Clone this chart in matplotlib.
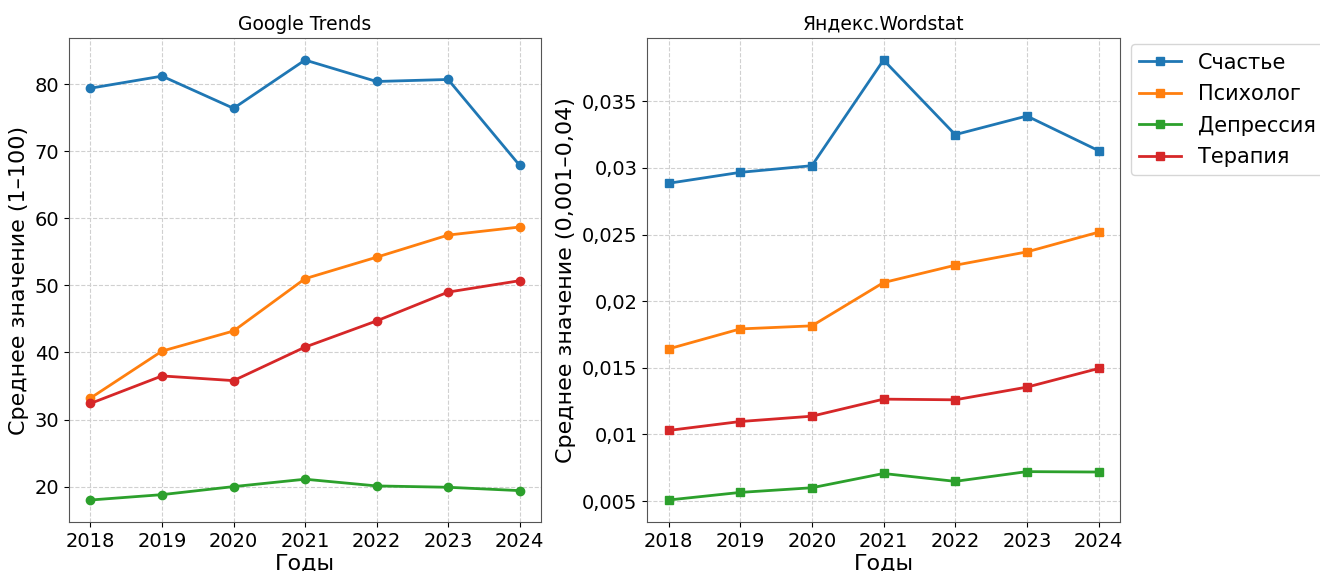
import numpy as np
import matplotlib
matplotlib.use('Agg')
import matplotlib.pyplot as plt
from matplotlib.ticker import FuncFormatter

years = [2018, 2019, 2020, 2021, 2022, 2023, 2024]
terms = ['Счастье', 'Психолог', 'Депрессия', 'Терапия']
colors = ['#1f77b4', '#ff7f0e', '#2ca02c', '#d62728']

# Google Trends, average value 1-100
google_happiness = [79.4, 81.2, 76.4, 83.6, 80.4, 80.7, 67.9]
google_psychologist = [33.2, 40.2, 43.2, 51.0, 54.2, 57.5, 58.7]
google_depression = [18.0, 18.8, 20.0, 21.1, 20.1, 19.9, 19.4]
google_therapy = [32.4, 36.5, 35.8, 40.8, 44.7, 49.0, 50.7]

# Yandex.Wordstat, average share
yandex_happiness = [0.02885, 0.02967, 0.03017, 0.0381, 0.0325, 0.0339, 0.0313]
yandex_psychologist = [0.01642, 0.01792, 0.01815, 0.0214, 0.0227, 0.0237, 0.02518]
yandex_depression = [0.00508, 0.00565, 0.0060, 0.00707, 0.00648, 0.00721, 0.00718]
yandex_therapy = [0.0103, 0.01097, 0.01137, 0.01265, 0.0126, 0.01355, 0.01495]

google = [google_happiness, google_psychologist, google_depression, google_therapy]
yandex = [yandex_happiness, yandex_psychologist, yandex_depression, yandex_therapy]

fig = plt.figure(figsize=(13.2, 5.71), dpi=100)
ax1 = fig.add_axes([0.0523, 0.0858, 0.3576, 0.8476])
ax2 = fig.add_axes([0.4902, 0.0858, 0.3583, 0.8476])

for vals, name, c in zip(google, terms, colors):
    ax1.plot(years, vals, marker='o', color=c, linewidth=2, markersize=6, label=name)
for vals, name, c in zip(yandex, terms, colors):
    ax2.plot(years, vals, marker='s', color=c, linewidth=2, markersize=6, label=name)

ax1.set_title('Google Trends', fontsize=13.5)
ax2.set_title('Яндекс.Wordstat', fontsize=13.5)
ax1.set_ylabel('Среднее значение (1–100)', fontsize=16)
ax2.set_ylabel('Среднее значение (0,001–0,04)', fontsize=16)

ax2.yaxis.set_major_formatter(FuncFormatter(lambda v, p: '{:g}'.format(round(v, 4)).replace('.', ',')))

for ax in (ax1, ax2):
    ax.set_xlabel('Годы', fontsize=16, labelpad=2)
    ax.set_xticks(years)
    ax.tick_params(labelsize=14)
    ax.grid(True, linestyle='--', color='#d0d0d0', linewidth=0.8)
    for s in ax.spines.values():
        s.set_color('#555555')

ax2.legend(loc='upper left', bbox_to_anchor=(1.01, 1), borderaxespad=0.3,
           labelspacing=0.55, fontsize=15)

fig.savefig('out.png', dpi=100)
